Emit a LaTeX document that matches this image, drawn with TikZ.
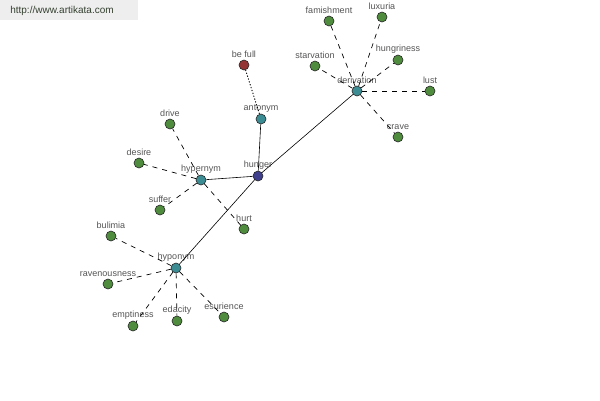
\documentclass[tikz,border=0pt]{standalone}
\usepackage{fontspec}
\setmainfont{Liberation Sans}
\usetikzlibrary{calc}
\tikzset{
    word/.style={circle,draw=black!85,line width=0.6pt,minimum size=10pt,inner sep=0pt,
        label={[text=wordtext,font=\fontsize{9}{10}\selectfont,inner sep=0pt,label distance=1.5pt]above:#1}},
    leaf/.style={word={#1},fill=leafgreen},
    relation/.style={word={#1},fill=relteal},
    rel/.style={draw=black,line width=0.6pt},
    sense/.style={draw=black,line width=0.7pt,dash pattern=on 5pt off 5pt},
}

\begin{document}
\begin{tikzpicture}[x=1pt,y=-1pt]
\definecolor{leafgreen}{HTML}{4F8C3E}
\definecolor{relteal}{HTML}{3C8C94}
\definecolor{headblue}{HTML}{3F3F8E}
\definecolor{oppred}{HTML}{943434}
\definecolor{wordtext}{HTML}{555555}
\definecolor{markgray}{HTML}{EEEEEE}
\definecolor{marktext}{HTML}{34402F}

\useasboundingbox (0,0) rectangle (600,400);
\fill[white] (0,0) rectangle (600,400);

% watermark
\fill[markgray] (0,0) rectangle (138,20);
\node[text=marktext,font=\fontsize{10}{12}\selectfont] (mark) at (62,11) {http://www.artikata.com};

% head word and relation hubs
\node[word={hunger},fill=headblue] (hunger) at (258,176) {};
\node[relation={antonym}] (antonym) at (261,119) {};
\node[relation={hypernym}] (hypernym) at (201,180) {};
\node[relation={derivation}] (derivation) at (357,91) {};
\node[relation={hyponym}] (hyponym) at (176,268) {};

\node[word={be full},fill=oppred] (befull) at (244,65) {};

% derivation
\node[leaf={famishment}] (famishment) at (329,21) {};
\node[leaf={luxuria}] (luxuria) at (382,17) {};
\node[leaf={hungriness}] (hungriness) at (398,60) {};
\node[leaf={starvation}] (starvation) at (315,66) {};
\node[leaf={lust}] (lust) at (430,91) {};
\node[leaf={crave}] (crave) at (398,137) {};

% hypernym
\node[leaf={drive}] (drive) at (170,124) {};
\node[leaf={desire}] (desire) at (139,163) {};
\node[leaf={suffer}] (suffer) at (160,210) {};
\node[leaf={hurt}] (hurt) at (244,229) {};

% hyponym
\node[leaf={bulimia}] (bulimia) at (111,236) {};
\node[leaf={ravenousness}] (ravenousness) at (108,284) {};
\node[leaf={emptiness}] (emptiness) at (133,326) {};
\node[leaf={edacity}] (edacity) at (177,321) {};
\node[leaf={esurience}] (esurience) at (224,317) {};

\draw[rel] (hunger) -- (antonym);
\draw[rel] (hunger) -- (hypernym);
\draw[rel] (hunger) -- (derivation);
\draw[rel] (hunger) -- (hyponym);
\draw[rel,line width=0.9pt,dash pattern=on 1.2pt off 1.8pt] (antonym) -- (befull);

\draw[sense] (derivation) -- (famishment);
\draw[sense] (derivation) -- (luxuria);
\draw[sense] (derivation) -- (hungriness);
\draw[sense] (derivation) -- (starvation);
\draw[sense] (derivation) -- (lust);
\draw[sense] (derivation) -- (crave);

\draw[sense] (hypernym) -- (drive);
\draw[sense] (hypernym) -- (desire);
\draw[sense] (hypernym) -- (suffer);
\draw[sense] (hypernym) -- (hurt);

\draw[sense] (hyponym) -- (bulimia);
\draw[sense] (hyponym) -- (ravenousness);
\draw[sense] (hyponym) -- (emptiness);
\draw[sense] (hyponym) -- (edacity);
\draw[sense] (hyponym) -- (esurience);
\end{tikzpicture}
\end{document}
